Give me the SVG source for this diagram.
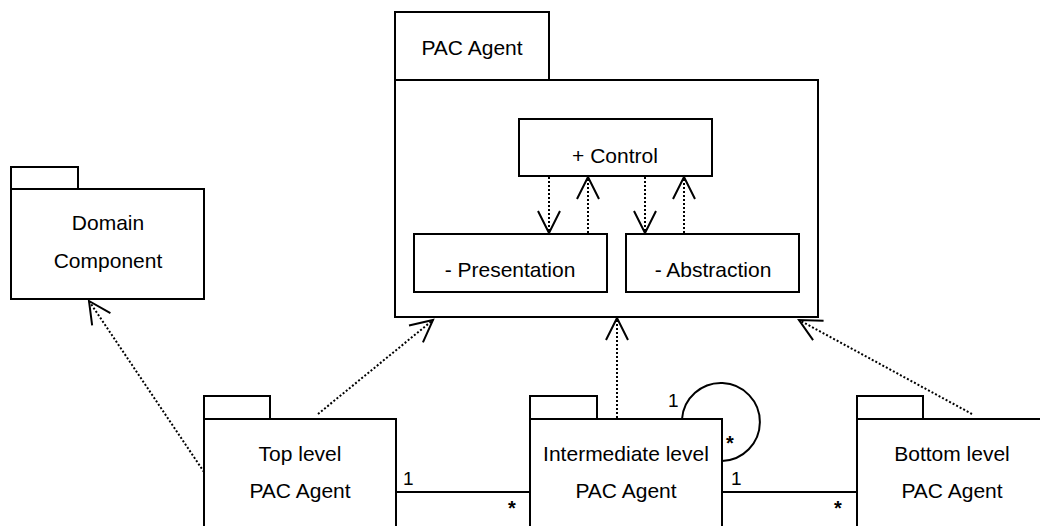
<svg xmlns="http://www.w3.org/2000/svg" width="1040" height="526" viewBox="0 0 1040 526">
<style>
.box{fill:#fff;stroke:#000;stroke-width:2}
.t{font-family:"Liberation Sans",Arial,sans-serif;font-size:21px;fill:#000;text-anchor:middle}
.m{font-family:"Liberation Sans",Arial,sans-serif;font-size:19px;fill:#000}
.ms{font-family:"Liberation Sans",Arial,sans-serif;font-size:20px;font-weight:bold;fill:#000}
.dep{fill:none;stroke:#000;stroke-width:2;stroke-dasharray:2 2;marker-end:url(#open)}
.assoc{fill:none;stroke:#000;stroke-width:2}
</style>
<defs>
<marker id="open" markerUnits="userSpaceOnUse" markerWidth="40" markerHeight="40" viewBox="-30 -20 40 40" refX="0" refY="0" orient="auto" overflow="visible">
<path d="M-22,-11 L0,0 L-22,11" fill="none" stroke="#000" stroke-width="2" stroke-dasharray="none"/>
</marker>
</defs>
<rect width="1040" height="526" fill="#fff"/>
<g id="pac-agent">
<rect class="box" x="395" y="12" width="154" height="68"/>
<rect class="box" x="395" y="80" width="423" height="237"/>
<text class="t" x="472" y="55">PAC Agent</text>
</g>
<g id="control">
<rect class="box" x="519" y="119" width="193" height="57"/>
<text class="t" x="615" y="163">+ Control</text>
</g>
<g id="presentation">
<rect class="box" x="414" y="234" width="193" height="58"/>
<text class="t" x="510" y="277">- Presentation</text>
</g>
<g id="abstraction">
<rect class="box" x="626" y="234" width="173" height="58"/>
<text class="t" x="713" y="277">- Abstraction</text>
</g>
<g id="domain-component">
<rect class="box" x="11" y="167" width="67" height="22"/>
<rect class="box" x="11" y="189" width="193" height="110"/>
<text class="t" x="108" y="230">Domain</text>
<text class="t" x="108" y="268">Component</text>
</g>
<g id="top-level">
<rect class="box" x="204" y="396" width="66" height="23"/>
<rect class="box" x="204" y="419" width="192" height="120"/>
<text class="t" x="300" y="461">Top level</text>
<text class="t" x="300" y="498">PAC Agent</text>
</g>
<g id="intermediate-level">
<rect class="box" x="530" y="396" width="67" height="23"/>
<rect class="box" x="530" y="419" width="192" height="120"/>
<text class="t" x="626" y="461">Intermediate level</text>
<text class="t" x="626" y="498">PAC Agent</text>
</g>
<g id="bottom-level">
<rect class="box" x="857" y="396" width="66" height="23"/>
<rect class="box" x="857" y="419" width="192" height="120"/>
<text class="t" x="952" y="461">Bottom level</text>
<text class="t" x="952" y="498">PAC Agent</text>
</g>
<g id="connectors">
<line class="dep" x1="549" y1="177" x2="549" y2="233"/>
<line class="dep" x1="588" y1="233" x2="588" y2="177"/>
<line class="dep" x1="645" y1="177" x2="645" y2="233"/>
<line class="dep" x1="684" y1="233" x2="684" y2="177"/>
<line class="dep" x1="204" y1="472" x2="89" y2="301"/>
<line class="dep" x1="318" y1="414" x2="433" y2="320"/>
<line class="dep" x1="617" y1="418" x2="617" y2="318"/>
<line class="dep" x1="972" y1="414" x2="799" y2="320"/>
<line class="assoc" x1="396" y1="492" x2="530" y2="492"/>
<line class="assoc" x1="722" y1="492" x2="857" y2="492"/>
<path class="assoc" d="M682,419 A39,39 0 1 1 722,461"/>
<text class="m" x="403" y="485">1</text>
<text class="ms" x="508" y="515">*</text>
<text class="m" x="668" y="407">1</text>
<text class="ms" x="726" y="450">*</text>
<text class="m" x="731" y="485">1</text>
<text class="ms" x="834" y="515">*</text>
</g>
</svg>
